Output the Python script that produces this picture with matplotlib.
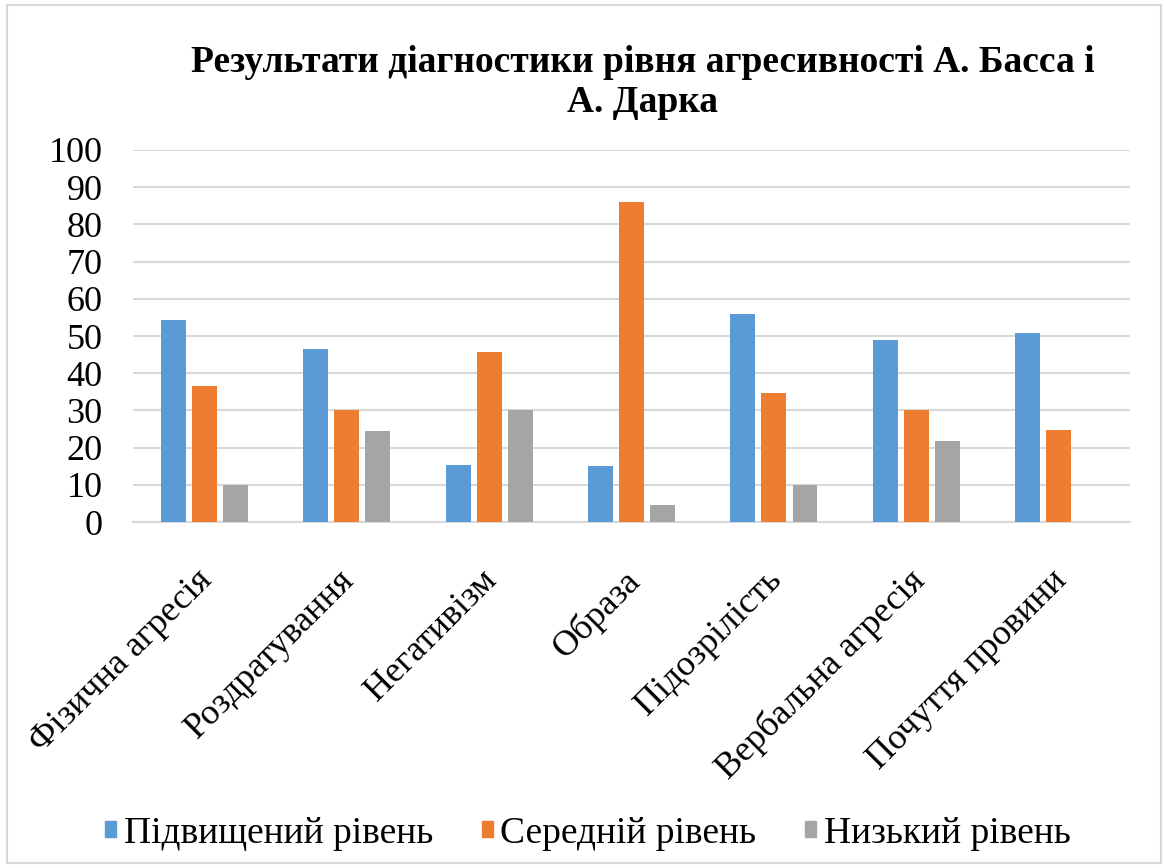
import numpy as np
import matplotlib
matplotlib.use("Agg")
import matplotlib.pyplot as plt
from matplotlib.patches import Rectangle, Patch

plt.rcParams['font.family'] = 'serif'
plt.rcParams['font.serif'] = ['Liberation Serif']
FONT = 'Liberation Serif'

categories = ["Фізична агресія", "Роздратування", "Негативізм", "Образа",
              "Підозрілість", "Вербальна агресія", "Почуття провини"]
series_names = ["Підвищений рівень", "Середній рівень", "Низький рівень"]
high = [54.2, 46.4, 15.4, 15.0, 55.9, 49.0, 50.8]
medium = [36.5, 30.0, 45.6, 86.0, 34.8, 30.0, 24.8]
low = [10.0, 24.4, 30.0, 4.7, 9.9, 21.9, 0]
colors = ["#5b9bd5", "#ed7d31", "#a5a5a5"]
title = "Результати діагностики рівня агресивності А. Басса і\nА. Дарка"

fig = plt.figure(figsize=(11.64, 8.68), dpi=100)
ax = fig.add_axes([0.1143, 0.3986, 0.8565, 0.4286])

x = np.arange(len(categories))
w = 0.175
step = 0.218
for i, vals in enumerate([high, medium, low]):
    ax.bar(x + (i - 1) * step, vals, width=w, color=colors[i], zorder=3)

ax.set_xlim(-0.5, len(categories) - 0.5)
ax.set_ylim(0, 100)
ax.set_yticks(range(0, 101, 10))
ax.tick_params(axis='y', length=0, labelsize=26, pad=22)
ax.tick_params(axis='x', length=0, labelsize=26, pad=30)
ax.set_xticks(x - 0.06)
ax.set_xticklabels(categories, rotation=45, ha='right', rotation_mode='anchor')
for lab in ax.get_xticklabels() + ax.get_yticklabels():
    lab.set_family(FONT)
ax.grid(axis='y', color='#d9d9d9', linewidth=1.5, zorder=0)
for s in ['top', 'right', 'left']:
    ax.spines[s].set_visible(False)
ax.spines['bottom'].set_color('#d9d9d9')
ax.spines['bottom'].set_linewidth(1.5)

fig.text(0.552, 0.905, title, ha='center', va='center', fontsize=27,
         fontweight='bold', linespacing=1.2, family=FONT)

handles = [Patch(color=c) for c in colors]
fig.legend(handles, series_names, loc='center', bbox_to_anchor=(0.505, 0.04),
           ncol=3, frameon=False, handlelength=0.3, handleheight=0.3,
           handletextpad=0.2, columnspacing=1.3,
           prop={'family': FONT, 'size': 27})

fig.patches.append(Rectangle((0.006, 0.006), 0.991, 0.988, transform=fig.transFigure,
                             fill=False, edgecolor='#d9d9d9', linewidth=1.5))

fig.savefig("out.png", dpi=100)
